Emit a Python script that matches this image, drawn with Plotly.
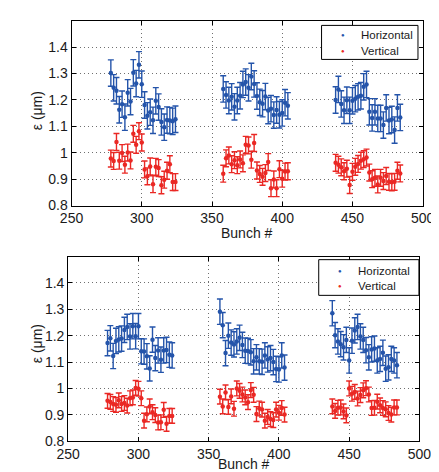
import plotly.graph_objects as go

bunches = [278, 280, 282, 284, 286, 288, 290, 292, 294, 296, 298, 300,
           302, 304, 306, 308, 310, 312, 314, 316, 318, 320, 322, 324,
           358, 360, 362, 364, 366, 368, 370, 372, 374, 376, 378, 380,
           382, 384, 386, 388, 390, 392, 394, 396, 398, 400, 402, 404,
           438, 440, 442, 444, 446, 448, 450, 452, 454, 456, 458, 460,
           462, 464, 466, 468, 470, 472, 474, 476, 478, 480, 482, 484]

top_horizontal = [1.302, 1.246, 1.235, 1.163, 1.184, 1.135, 1.227, 1.194, 1.303, 1.262, 1.333, 1.260,
                  1.181, 1.140, 1.154, 1.123, 1.197, 1.173, 1.117, 1.097, 1.124, 1.122, 1.119, 1.127,
                  1.242, 1.219, 1.198, 1.212, 1.174, 1.198, 1.216, 1.259, 1.268, 1.246, 1.289, 1.261,
                  1.215, 1.191, 1.186, 1.213, 1.160, 1.167, 1.143, 1.162, 1.144, 1.151, 1.190, 1.178,
                  1.200, 1.240, 1.185, 1.161, 1.199, 1.161, 1.197, 1.205, 1.212, 1.216, 1.250, 1.259,
                  1.155, 1.132, 1.155, 1.130, 1.130, 1.105, 1.170, 1.122, 1.126, 1.086, 1.170, 1.134]

top_vertical = [0.978, 0.969, 1.041, 0.970, 0.999, 0.955, 1.001, 0.971, 1.072, 1.030, 1.082, 1.039,
                0.937, 0.911, 0.948, 0.881, 0.947, 0.942, 0.877, 0.898, 0.932, 0.957, 0.889, 0.889,
                0.921, 0.979, 0.990, 0.957, 0.972, 0.953, 0.975, 0.960, 1.030, 1.028, 0.974, 1.037,
                0.933, 0.920, 0.909, 0.923, 0.965, 0.866, 0.899, 0.866, 0.938, 0.902, 0.929, 0.930,
                0.962, 0.955, 0.945, 0.930, 0.940, 0.878, 0.928, 0.947, 0.958, 0.970, 0.976, 0.982,
                0.925, 0.900, 0.905, 0.880, 0.905, 0.893, 0.912, 0.890, 0.888, 0.890, 0.932, 0.922]

bottom_horizontal = [1.172, 1.190, 1.123, 1.180, 1.186, 1.189, 1.222, 1.233, 1.197, 1.236, 1.198, 1.236,
                     1.141, 1.140, 1.122, 1.076, 1.185, 1.115, 1.144, 1.109, 1.144, 1.146, 1.128, 1.125,
                     1.291, 1.240, 1.134, 1.200, 1.174, 1.167, 1.178, 1.192, 1.165, 1.143, 1.142, 1.137,
                     1.103, 1.118, 1.103, 1.101, 1.125, 1.110, 1.115, 1.100, 1.074, 1.072, 1.125, 1.079,
                     1.285, 1.202, 1.178, 1.168, 1.156, 1.184, 1.106, 1.181, 1.220, 1.233, 1.197, 1.184,
                     1.145, 1.118, 1.148, 1.151, 1.106, 1.112, 1.135, 1.075, 1.080, 1.112, 1.106, 1.088]

bottom_vertical = [0.953, 0.949, 0.941, 0.938, 0.955, 0.941, 0.945, 0.935, 0.963, 0.966, 1.002, 0.999,
                   0.963, 0.878, 0.902, 0.932, 0.910, 0.899, 0.871, 0.872, 0.919, 0.866, 0.896, 0.896,
                   0.969, 0.932, 0.985, 0.930, 0.970, 0.923, 1.000, 0.991, 0.977, 0.966, 0.948, 0.994,
                   0.976, 0.903, 0.924, 0.920, 0.878, 0.892, 0.884, 0.880, 0.920, 0.908, 0.926, 0.901,
                   0.932, 0.915, 0.927, 0.928, 0.913, 0.898, 1.000, 0.980, 0.987, 0.962, 0.975, 0.993,
                   1.001, 0.977, 0.926, 0.927, 0.950, 0.936, 0.926, 0.921, 0.907, 0.901, 0.928, 0.928]

errors = {"top_h": 0.050, "top_v": 0.032, "bottom_h": 0.048, "bottom_v": 0.028}

series_names = ["Horizontal", "Vertical"]
x_ticks = [250, 300, 350, 400, 450, 500]
y_ticks = [0.8, 0.9, 1.0, 1.1, 1.2, 1.3, 1.4]
y_ticktext = ["0.8", "0.9", "1", "1.1", "1.2", "1.3", "1.4"]

W, H = 439, 472
BLUE = "rgb(36,84,170)"
RED = "rgb(234,40,36)"
FONT = "Liberation Sans, Arial, Helvetica, sans-serif"
TXT = "#1a1a1a"

fig = go.Figure()

def add_series(y, err, color, name, xa, ya):
    fig.add_trace(go.Scatter(
        x=bunches, y=y, mode="markers", name=name, showlegend=False,
        marker=dict(color=color, size=4.5),
        error_y=dict(type="constant", value=err, color=color, thickness=1.4, width=3),
        xaxis=xa, yaxis=ya,
    ))

add_series(top_horizontal, errors["top_h"], BLUE, series_names[0], "x", "y")
add_series(top_vertical, errors["top_v"], RED, series_names[1], "x", "y")
add_series(bottom_horizontal, errors["bottom_h"], BLUE, series_names[0], "x2", "y2")
add_series(bottom_vertical, errors["bottom_v"], RED, series_names[1], "x2", "y2")

def px_x(v):
    return v / W

def px_y(v):
    return 1 - v / H

axis_common = dict(
    showline=True, linecolor="black", linewidth=1, mirror="ticks",
    ticks="inside", ticklen=4, tickcolor="black", tickwidth=1,
    showgrid=True, gridcolor="#6f6f6f", griddash="1px,3px", gridwidth=1,
    zeroline=False, tickfont=dict(family=FONT, size=14, color=TXT),
)

fig.update_layout(
    width=W, height=H,
    margin=dict(l=0, r=0, t=0, b=0),
    paper_bgcolor="white", plot_bgcolor="white",
    xaxis=dict(domain=[px_x(54.5), px_x(426.0)], range=[250, 500], tickvals=x_ticks, anchor="y", **axis_common),
    yaxis=dict(domain=[px_y(201), px_y(13)], range=[0.8, 1.5], tickvals=y_ticks, ticktext=y_ticktext, anchor="x", **axis_common),
    xaxis2=dict(domain=[px_x(51.0), px_x(422.5)], range=[250, 500], tickvals=x_ticks, anchor="y2", **axis_common),
    yaxis2=dict(domain=[px_y(440.7), px_y(252.8)], range=[0.8, 1.5], tickvals=y_ticks, ticktext=y_ticktext, anchor="x2", **axis_common),
    showlegend=False,
)

# legend boxes (drawn in paper space), one per panel
legend_boxes = [
    dict(x0=319, x1=421, y0=17.7, y1=52.3, dot_x=341.7, text_x=359.5, rows=[27.5, 43.5]),
    dict(x0=316, x1=422, y0=256, y1=292.3, dot_x=338.3, text_x=356.0, rows=[267.3, 282.7]),
]
for box in legend_boxes:
    fig.add_shape(type="rect", xref="paper", yref="paper",
                  x0=px_x(box["x0"]), x1=px_x(box["x1"]), y0=px_y(box["y1"]), y1=px_y(box["y0"]),
                  line=dict(color="black", width=1), fillcolor="white", layer="above")
    for name, color, ry in zip(series_names, [BLUE, RED], box["rows"]):
        fig.add_annotation(text="●", x=px_x(box["dot_x"]), y=px_y(ry), xref="paper", yref="paper",
                           showarrow=False, font=dict(family=FONT, size=6, color=color),
                           xanchor="center", yanchor="middle")
        fig.add_annotation(text=name, x=px_x(box["text_x"]), y=px_y(ry), xref="paper", yref="paper",
                           showarrow=False, font=dict(family=FONT, size=11.5, color=TXT),
                           xanchor="left", yanchor="middle", borderpad=0)

label_font = dict(family=FONT, size=14, color=TXT)
fig.add_annotation(text="Bunch #", x=px_x(240), y=px_y(229), xref="paper", yref="paper",
                   showarrow=False, font=label_font, xanchor="center", yanchor="middle")
fig.add_annotation(text="Bunch #", x=px_x(237), y=px_y(463.5), xref="paper", yref="paper",
                   showarrow=False, font=label_font, xanchor="center", yanchor="middle")
fig.add_annotation(text="ε (μm)", x=px_x(18), y=px_y(105), xref="paper", yref="paper",
                   showarrow=False, font=label_font, textangle=-90, xanchor="center", yanchor="middle")
fig.add_annotation(text="ε (μm)", x=px_x(18), y=px_y(342), xref="paper", yref="paper",
                   showarrow=False, font=label_font, textangle=-90, xanchor="center", yanchor="middle")

fig.write_html("out.html")
